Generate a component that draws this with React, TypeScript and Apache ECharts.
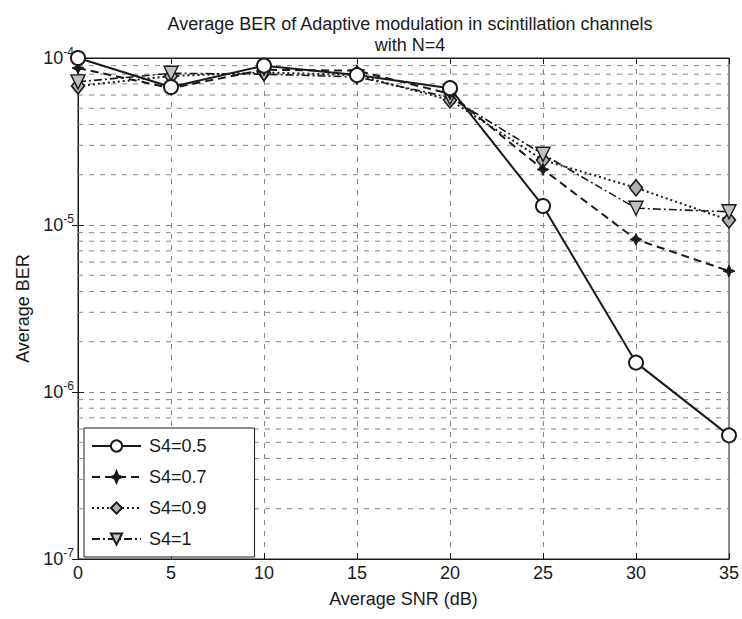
import React, { useEffect, useRef } from "react";
import * as echarts from "echarts";

const snr = [0, 5, 10, 15, 20, 25, 30, 35];
const berS05 = [1.0e-4, 6.7e-5, 9.0e-5, 7.9e-5, 6.6e-5, 1.3e-5, 1.5e-6, 5.5e-7];
const berS07 = [8.7e-5, 6.6e-5, 8.5e-5, 8.4e-5, 6.1e-5, 2.15e-5, 8.2e-6, 5.3e-6];
const berS09 = [6.8e-5, 7.8e-5, 8.2e-5, 7.9e-5, 5.6e-5, 2.45e-5, 1.67e-5, 1.07e-5];
const berS1 = [7.2e-5, 8.1e-5, 8.0e-5, 7.7e-5, 5.8e-5, 2.65e-5, 1.26e-5, 1.2e-5];
const seriesNames = ["S4=0.5", "S4=0.7", "S4=0.9", "S4=1"];
const decades = [-7, -6, -5];
const minorMultipliers = [2, 3, 4, 5, 6, 7, 8, 9];

const FONT = "Liberation Sans, Arial, sans-serif";
const INK = "#1a1a1a";
const GRIDC = "#858585";

export default function App() {
  const ref = useRef<HTMLDivElement>(null);
  useEffect(() => {
    document.body.style.margin = "0";
    if (!ref.current) return;
    const chart = echarts.init(ref.current, undefined, { renderer: "svg" });
    const pairs = (ys: number[]) => snr.map((x, i) => [x, ys[i]]);
    const minorVals: number[] = [];
    decades.forEach((e) => minorMultipliers.forEach((m) => minorVals.push(m * Math.pow(10, e))));

    const starPath = "path://M0,-10 L3,-3 L10,0 L3,3 L0,10 L-3,3 L-10,0 L-3,-3 Z";
    const triDown = "path://M-10,-8 L10,-8 L0,10 Z";

    const minorSeries = minorVals.map((v) => ({
      type: "line",
      silent: true,
      data: [
        [snr[0], v],
        [snr[snr.length - 1], v],
      ],
      showSymbol: false,
      symbol: "none",
      lineStyle: { color: GRIDC, width: 1, type: [5, 6] },
      z: 1,
      tooltip: { show: false },
    }));

    const option: any = {
      animation: false,
      backgroundColor: "#fff",
      textStyle: { fontFamily: FONT, color: INK },
      title: {
        text: "Average BER of Adaptive modulation in scintillation channels\nwith N=4",
        left: 405,
        textAlign: "center",
        top: 8,
        textStyle: { fontFamily: FONT, fontSize: 18, fontWeight: "normal", color: INK, lineHeight: 21 },
      },
      grid: {
        left: 78,
        right: 10,
        top: 58,
        bottom: 60,
        show: true,
        borderColor: INK,
        borderWidth: 1,
        backgroundColor: "transparent",
      },
      legend: {
        orient: "vertical",
        left: 84,
        top: 428,
        padding: [8, 48, 8, 7],
        itemGap: 11,
        itemWidth: 49,
        itemHeight: 14,
        backgroundColor: "#fff",
        borderColor: INK,
        borderWidth: 1,
        textStyle: { fontFamily: FONT, fontSize: 18, color: INK, lineHeight: 20, padding: [0, 0, 0, 3] },
        data: seriesNames,
        z: 10,
      },
      xAxis: [
        {
          type: "value",
          min: 0,
          max: 35,
          interval: 5,
          name: "Average SNR (dB)",
          nameLocation: "middle",
          nameGap: 31,
          nameTextStyle: { fontFamily: FONT, fontSize: 18, color: INK },
          axisLine: { show: true, lineStyle: { color: INK } },
          axisTick: { show: true, inside: true, length: 6, lineStyle: { color: INK } },
          axisLabel: { fontFamily: FONT, fontSize: 18, color: INK, margin: 5 },
          splitLine: { show: true, lineStyle: { color: GRIDC, type: [5, 6], width: 1 } },
        },
        {
          type: "value",
          position: "top",
          min: 0,
          max: 35,
          interval: 5,
          axisLine: { show: true, lineStyle: { color: INK } },
          axisTick: { show: true, inside: true, length: 6, lineStyle: { color: INK } },
          axisLabel: { show: false },
          splitLine: { show: false },
        },
      ],
      yAxis: [
        {
          type: "log",
          logBase: 10,
          min: 1e-7,
          max: 1e-4,
          name: "Average BER",
          nameLocation: "middle",
          nameGap: 42,
          nameTextStyle: { fontFamily: FONT, fontSize: 18, color: INK },
          axisLine: { show: true, lineStyle: { color: INK } },
          axisTick: { show: true, inside: true, length: 6, lineStyle: { color: INK } },
          axisLabel: {
            margin: 4,
            formatter: (v: number) => `{b|10}{e|${Math.round(Math.log10(v))}}`,
            rich: {
              b: { fontFamily: FONT, fontSize: 18, color: INK },
              e: { fontFamily: FONT, fontSize: 12, color: INK, verticalAlign: "top", padding: [0, 0, 12, 0] },
            },
          },
          splitLine: { show: true, lineStyle: { color: GRIDC, type: [5, 6], width: 1 } },
        },
        {
          type: "log",
          logBase: 10,
          min: 1e-7,
          max: 1e-4,
          position: "right",
          axisLine: { show: true, lineStyle: { color: INK } },
          axisTick: { show: true, inside: true, length: 6, lineStyle: { color: INK } },
          axisLabel: { show: false },
          splitLine: { show: false },
        },
      ],
      series: [
        ...minorSeries,
        {
          name: seriesNames[0],
          type: "line",
          data: pairs(berS05),
          symbol: "emptyCircle",
          symbolSize: 14,
          lineStyle: { color: INK, width: 2, type: "solid" },
          itemStyle: { color: INK, borderColor: INK, borderWidth: 1.8 },
          z: 5,
        },
        {
          name: seriesNames[1],
          type: "line",
          data: pairs(berS07),
          symbol: starPath,
          symbolSize: 12,
          lineStyle: { color: INK, width: 2, type: [8, 5] },
          itemStyle: { color: INK, borderColor: INK, borderWidth: 1 },
          z: 4,
        },
        {
          name: seriesNames[2],
          type: "line",
          data: pairs(berS09),
          symbol: "diamond",
          symbolSize: [13, 16],
          lineStyle: { color: INK, width: 2, type: [2, 3] },
          itemStyle: { color: "#b0b0b0", borderColor: INK, borderWidth: 1.6 },
          z: 3,
        },
        {
          name: seriesNames[3],
          type: "line",
          data: pairs(berS1),
          symbol: triDown,
          symbolSize: 14,
          lineStyle: { color: INK, width: 1.6, type: [8, 3, 2, 3] },
          itemStyle: { color: "#c0c0c0", borderColor: INK, borderWidth: 1.4 },
          z: 3,
        },
      ],
    };
    chart.setOption(option);
    return () => chart.dispose();
  }, []);
  return <div ref={ref} style={{ width: 742, height: 619 }} />;
}
